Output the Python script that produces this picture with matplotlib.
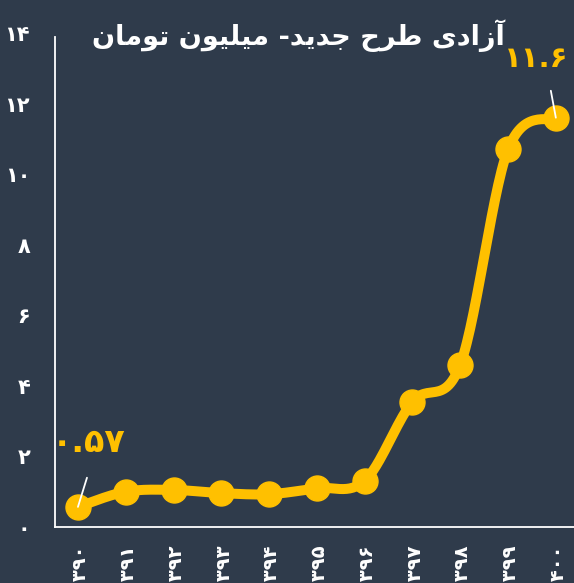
import numpy as np
import matplotlib
matplotlib.use("Agg")
import matplotlib.pyplot as plt

# ---------------- data ----------------
years = ['۱۳۹۰', '۱۳۹۱', '۱۳۹۲', '۱۳۹۳', '۱۳۹۴', '۱۳۹۵',
         '۱۳۹۶', '۱۳۹۷', '۱۳۹۸', '۱۳۹۹', '۱۴۰۰']
prices = [0.57, 1.00, 1.05, 0.96, 0.93, 1.10, 1.31, 3.55, 4.60, 10.70, 11.6]
y_ticks = [0, 2, 4, 6, 8, 10, 12, 14]
y_tick_labels = ['۰', '۲', '۴', '۶', '۸', '۱۰', '۱۲', '۱۴']
title = 'آزادی طرح جدید- میلیون تومان'
first_label = '۰.۵۷'
last_label = '۱۱.۶'

# ---------------- minimal Persian shaping ----------------
# forms: (isolated, final, initial, medial); right-joining letters have only 2
FORMS = {
    'آ': ('\uFE81', '\uFE82'),
    'ا': ('\uFE8D', '\uFE8E'),
    'د': ('\uFEA9', '\uFEAA'),
    'ر': ('\uFEAD', '\uFEAE'),
    'ز': ('\uFEAF', '\uFEB0'),
    'و': ('\uFEED', '\uFEEE'),
    'ی': ('\uFEEF', '\uFEF0', '\uFEF3', '\uFEF4'),
    'ط': ('\uFEC1', '\uFEC2', '\uFEC3', '\uFEC4'),
    'ح': ('\uFEA1', '\uFEA2', '\uFEA3', '\uFEA4'),
    'ج': ('\uFE9D', '\uFE9E', '\uFE9F', '\uFEA0'),
    'م': ('\uFEE1', '\uFEE2', '\uFEE3', '\uFEE4'),
    'ل': ('\uFEDD', '\uFEDE', '\uFEDF', '\uFEE0'),
    'ن': ('\uFEE5', '\uFEE6', '\uFEE7', '\uFEE8'),
    'ت': ('\uFE95', '\uFE96', '\uFE97', '\uFE98'),
}


def shape_rtl(text):
    out = []
    n = len(text)
    for i, ch in enumerate(text):
        if ch not in FORMS:
            out.append(ch)
            continue
        f = FORMS[ch]
        prev = text[i - 1] if i > 0 else None
        nxt = text[i + 1] if i < n - 1 else None
        jp = prev is not None and prev in FORMS and len(FORMS[prev]) == 4
        jn = len(f) == 4 and nxt is not None and nxt in FORMS
        if jp and jn:
            out.append(f[3])
        elif jp:
            out.append(f[1])
        elif jn:
            out.append(f[2])
        else:
            out.append(f[0])
    return ''.join(out)[::-1]


# ---------------- smooth curve (Excel-like Bezier / Catmull-Rom) ----------------
def smooth(xs, ys, n=30):
    P = np.column_stack([xs, ys]).astype(float)
    pts = []
    for i in range(len(P) - 1):
        p0 = P[i - 1] if i > 0 else P[i]
        p1 = P[i]
        p2 = P[i + 1]
        p3 = P[i + 2] if i + 2 < len(P) else P[i + 1]
        c1 = p1 + (p2 - p0) / 6.0
        c2 = p2 - (p3 - p1) / 6.0
        t = np.linspace(0, 1, n)[:, None]
        seg = ((1 - t) ** 3) * p1 + 3 * ((1 - t) ** 2) * t * c1 + 3 * (1 - t) * t ** 2 * c2 + t ** 3 * p2
        pts.append(seg if i == 0 else seg[1:])
    pts = np.vstack(pts)
    return pts[:, 0], pts[:, 1]


BG = '#2f3b4b'
YEL = '#FFC000'

fig = plt.figure(figsize=(5.74, 5.83), dpi=100, facecolor=BG)
ax = fig.add_axes([55 / 574, (583 - 527) / 583, 1 - 55 / 574, (527 - 33) / 583])
ax.set_facecolor(BG)

x = np.arange(len(prices))
sx, sy = smooth(x, prices)
ax.plot(sx, sy, color=YEL, lw=7.2, solid_capstyle='round', zorder=3)
ax.plot(x, prices, 'o', color=YEL, ms=18, zorder=4)

ax.set_xlim(-0.48, 10.38)
ax.set_ylim(0, 14)

for s in ['top', 'right']:
    ax.spines[s].set_visible(False)
for s in ['left', 'bottom']:
    ax.spines[s].set_color('white')
    ax.spines[s].set_linewidth(1.3)
ax.spines['left'].set_bounds(0, 13.9)

ax.set_yticks(y_ticks)
ax.set_yticklabels(y_tick_labels, fontsize=15, fontweight='bold', color='white',
                   family='DejaVu Sans')
ax.set_xticks(x)
ax.set_xticklabels(years, rotation=90, fontsize=14, fontweight='bold', color='white',
                   family='DejaVu Sans', va='top')
ax.tick_params(axis='y', length=0, pad=18)
ax.tick_params(axis='x', length=0, pad=11)

# annotations
ax.annotate('', xy=(x[0], prices[0]), xytext=(6.5, 21), textcoords='offset points',
            arrowprops=dict(arrowstyle='-', color='white', lw=1.3, shrinkA=0, shrinkB=0),
            zorder=5)
ax.annotate(first_label, xy=(x[0], prices[0]), xytext=(8, 46), textcoords='offset points',
            ha='center', va='center', fontsize=24, fontweight='bold', color=YEL,
            annotation_clip=False)
ax.annotate('', xy=(x[-1], prices[-1]), xytext=(-3.6, 19.4), textcoords='offset points',
            arrowprops=dict(arrowstyle='-', color='white', lw=1.3, shrinkA=0, shrinkB=0),
            zorder=5)
ax.annotate(last_label, xy=(x[-1], prices[-1]), xytext=(-14, 42), textcoords='offset points',
            ha='center', va='center', fontsize=21, fontweight='bold', color=YEL,
            annotation_clip=False)

fig.text(298 / 574, (583 - 36) / 583, shape_rtl(title), ha='center', va='center',
         fontsize=19.5, fontweight='bold', color='white')

fig.savefig('out.png', dpi=100, facecolor=BG)
